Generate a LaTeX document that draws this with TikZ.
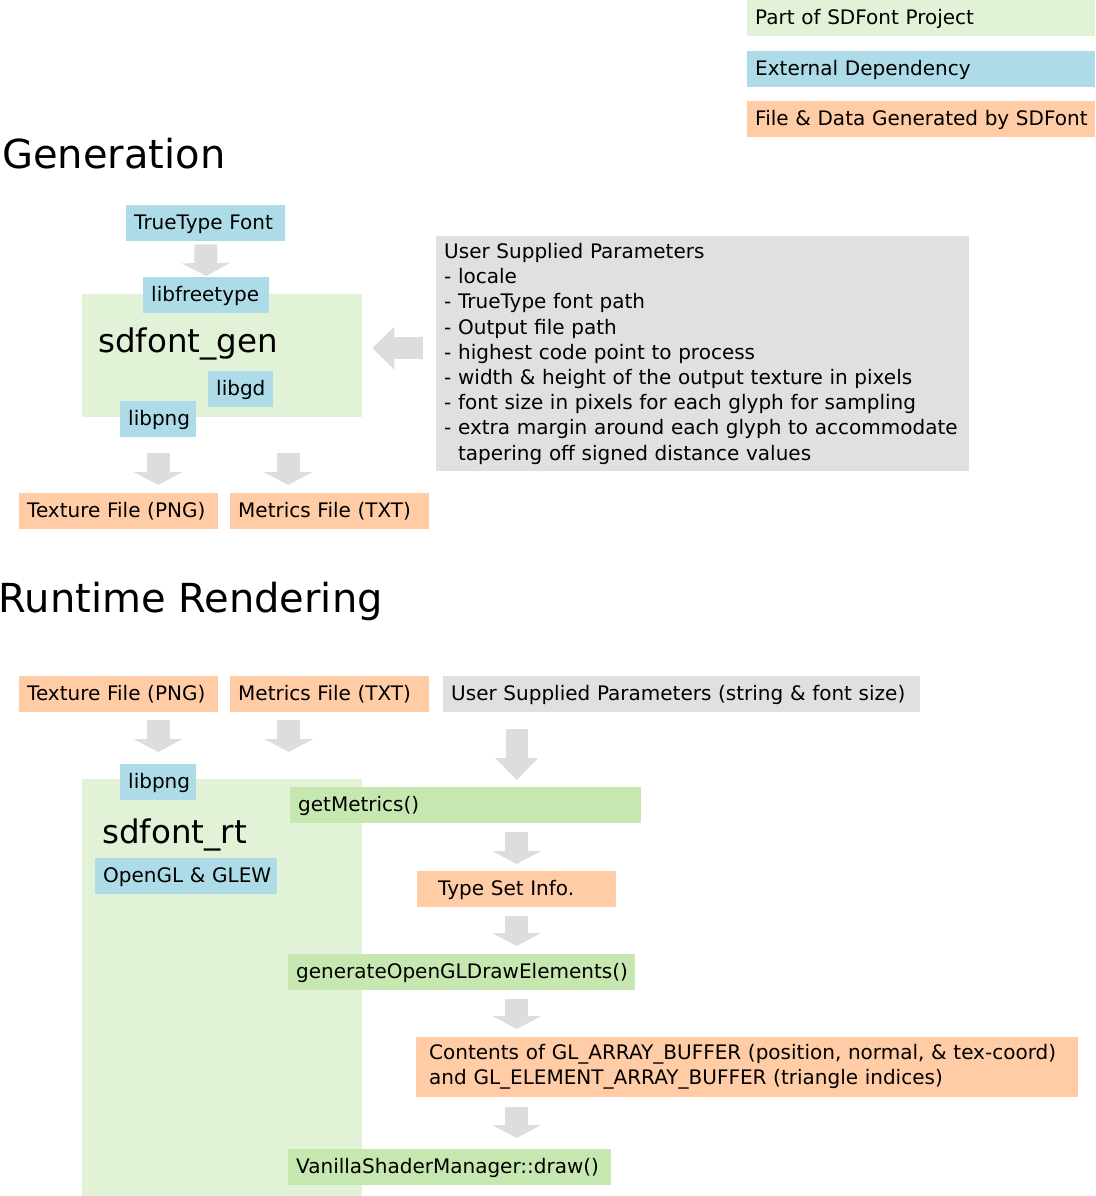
\documentclass[tikz,border=0pt]{standalone}
\usepackage{fontspec}
\setmainfont{DejaVu Sans}
\usetikzlibrary{arrows.meta}

\definecolor{partgreen}{RGB}{226,242,214}
\definecolor{fngreen}{RGB}{198,232,176}
\definecolor{extblue}{RGB}{173,220,232}
\definecolor{genpeach}{RGB}{255,204,166}
\definecolor{paramgray}{RGB}{224,224,224}
\definecolor{arrowgray}{RGB}{221,221,221}

\tikzset{
  tag/.style={anchor=north west, inner xsep=8pt, inner ysep=0pt, minimum height=36pt,
    text height=17pt, text depth=4pt, align=left, font=\fontsize{20}{25.2}\selectfont},
  part/.style={tag, fill=partgreen},
  func/.style={tag, fill=fngreen},
  ext/.style={tag, fill=extblue},
  output/.style={tag, fill=genpeach},
  params/.style={anchor=north west, inner xsep=8pt, inner ysep=0pt, align=left,
    fill=paramgray, font=\fontsize{20}{25.2}\selectfont},
  module/.style={anchor=north west, inner sep=0pt, fill=partgreen},
  modname/.style={anchor=base west, inner sep=0pt, font=\fontsize{32.5}{36}\selectfont},
  heading/.style={anchor=base west, inner sep=0pt, font=\fontsize{40}{44}\selectfont},
  blockarrow/.style={draw=arrowgray, line width=23pt,
    -{Triangle[length=13pt, width=49pt, line width=0pt]}},
  bigarrow/.style={draw=arrowgray, line width=22pt,
    -{Triangle[length=22pt, width=43pt, line width=0pt]}}
}

\begin{document}
\begin{tikzpicture}[x=1pt, y=-1pt]
\useasboundingbox (0,0) rectangle (1095,1196);

% legend
\node[part, text width=332pt] (legpart) at (747,0) {Part of SDFont Project};
\node[ext, text width=332pt] (legext) at (747,51) {External Dependency};
\node[output, text width=332pt] (leggen) at (747,101) {\mbox{File \& Data Generated by SDFont}};

% generation
\node[heading] (genhead) at (2,168) {Generation};

\node[ext, text width=143pt] (ttf) at (126,205) {TrueType Font};
\node[module, minimum width=280pt, minimum height=123pt] (gen) at (82,294) {};
\node[ext, text width=110pt] (freetype) at (143,277) {libfreetype};
\node[modname] (genname) at (98,352) {sdfont\_gen};
\node[ext, text width=49pt] (gd) at (208,371) {libgd};
\node[ext, text width=60pt] (pnggen) at (120,401) {libpng};

\node[output, text width=183pt] (texgen) at (19,493) {Texture File (PNG)};
\node[output, text width=183pt] (metgen) at (230,493) {Metrics File (TXT)};

\node[params, text width=517pt, minimum height=235pt] (genparams) at (436,236) {User Supplied Parameters\\
- locale\\
- TrueType font path\\
- Output file path\\
- highest code point to process\\
- width \& height of the output texture in pixels\\
- font size in pixels for each glyph for sampling\\
- extra margin around each glyph to accommodate\\
\phantom{- }tapering off signed distance values};

\draw[blockarrow, shorten <=3pt, shorten >=1pt] (ttf.south) -- (freetype.north);
\draw[bigarrow, shorten <=13pt, shorten >=10pt] ([yshift=5.5pt]genparams.west) -- ([yshift=5.5pt]genparams.west -| gen.east);
\draw[blockarrow, shorten <=16pt, shorten >=8pt] (pnggen.south) -- (pnggen.south |- texgen.north);
\draw[blockarrow, shorten <=36pt, shorten >=8pt] ([xshift=66pt]gen.south) -- ([xshift=66pt]gen.south |- metgen.north);

% runtime rendering
\node[heading] (rthead) at (-1.5,612) {Runtime Rendering};

\node[output, text width=183pt] (texrt) at (19,676) {Texture File (PNG)};
\node[output, text width=183pt] (metrt) at (230,676) {Metrics File (TXT)};
\node[tag, fill=paramgray, text width=461pt] (rtparams) at (443,676) {User Supplied Parameters (string \& font size)};

\node[module, minimum width=280pt, minimum height=417pt] (rt) at (82,779) {};
\node[ext, text width=60pt] (pngrt) at (120,764) {libpng};
\node[modname] (rtname) at (102,843) {sdfont\_rt};
\node[ext, text width=166pt] (gl) at (95,858) {\mbox{OpenGL \& GLEW}};

\node[func, text width=335pt] (getm) at (290,787) {getMetrics()};
\node[output, text width=183pt] (tsi) at (417,871) {\hspace*{13pt}Type Set Info.};
\node[func, text width=331pt] (drawel) at (288,954) {generateOpenGLDrawElements()};
\node[output, text width=646pt, minimum height=60pt, text height=15pt, text depth=30pt] (buffers) at (416,1037)
  {\hspace*{5pt}Contents of GL\_ARRAY\_BUFFER (position, normal, \& tex-coord)\\
   \hspace*{5pt}and GL\_ELEMENT\_ARRAY\_BUFFER (triangle indices)};
\node[func, text width=307pt] (vsm) at (288,1149) {VanillaShaderManager::draw()};

\draw[blockarrow, shorten <=8pt, shorten >=12pt] (pngrt.north |- texrt.south) -- (pngrt.north);
\draw[blockarrow, shorten <=8pt, shorten >=27pt] ([xshift=-41pt]metrt.south) -- ([xshift=-41pt]metrt.south |- rt.north);
\draw[bigarrow, shorten <=17pt, shorten >=7pt] (rtparams.south -| tsi.north) -- (getm.north -| tsi.north);
\draw[blockarrow, shorten <=9pt, shorten >=7pt] (getm.south -| tsi.north) -- (tsi.north);
\draw[blockarrow, shorten <=9pt, shorten >=8pt] (tsi.south) -- (drawel.north -| tsi.south);
\draw[blockarrow, shorten <=9pt, shorten >=8pt] (drawel.south -| tsi.south) -- (buffers.north -| tsi.south);
\draw[blockarrow, shorten <=10pt, shorten >=11pt] (buffers.south -| tsi.south) -- (vsm.north -| tsi.south);
\end{tikzpicture}
\end{document}
